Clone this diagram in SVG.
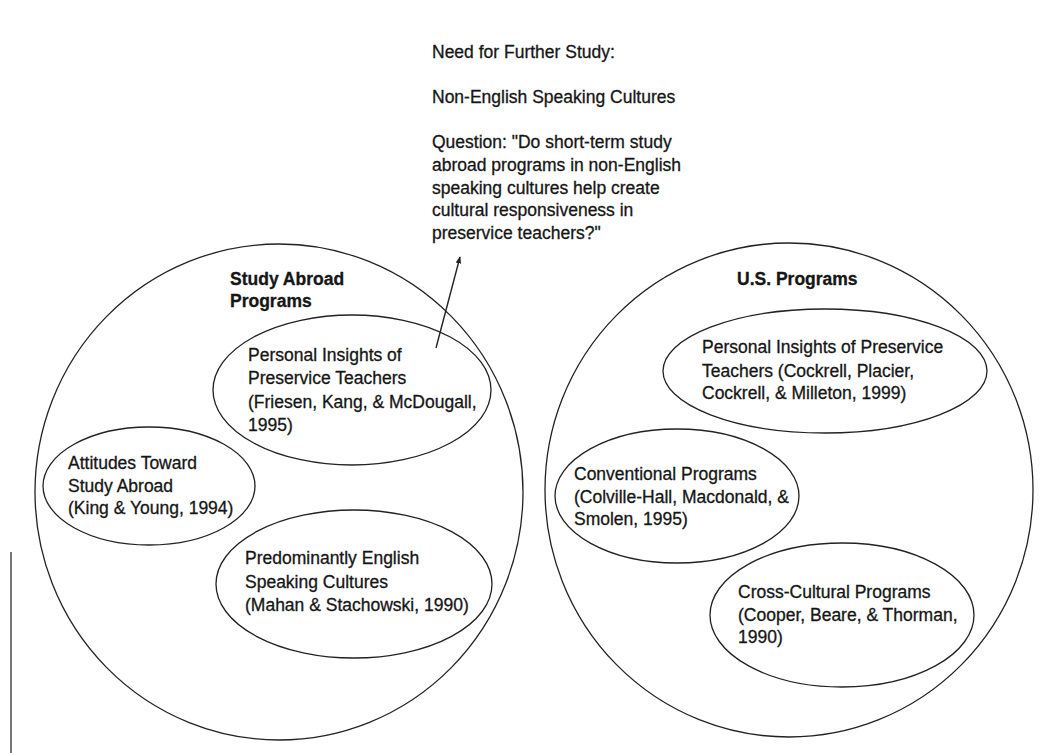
<svg xmlns="http://www.w3.org/2000/svg" width="1046" height="753" viewBox="0 0 1046 753">
<defs>
<style>
text{font-family:"Liberation Sans",Arial,sans-serif;font-size:17.5px;fill:#161616;stroke:#161616;stroke-width:0.3;}
.b{font-weight:bold;}
.sh{fill:none;stroke:#222;stroke-width:1.3;}
.cn{fill:none;stroke:#222;stroke-width:1.4;}
</style>
<marker id="ah" viewBox="0 0 10 10" refX="9" refY="5" markerWidth="7" markerHeight="7" orient="auto" markerUnits="userSpaceOnUse">
<path d="M0,1 L10,5 L0,9 Z" fill="#222"/>
</marker>
</defs>
<rect width="1046" height="753" fill="#fff"/>
<g id="note">
<text x="432" y="58">Need for Further Study:</text>
<text x="432" y="103">Non-English Speaking Cultures</text>
<text x="432" y="148">Question: "Do short-term study</text>
<text x="432" y="171">abroad programs in non-English</text>
<text x="432" y="194">speaking cultures help create</text>
<text x="432" y="216">cultural responsiveness in</text>
<text x="432" y="239">preservice teachers?"</text>
</g>
<g id="study-abroad">
<ellipse class="sh" cx="279" cy="492" rx="244" ry="248"/>
<text class="b" x="230" y="285">Study Abroad</text>
<text class="b" x="230" y="307">Programs</text>
</g>
<g id="sa-insights">
<ellipse class="sh" cx="352" cy="390" rx="139" ry="75"/>
<text x="248" y="361">Personal Insights of</text>
<text x="248" y="384">Preservice Teachers</text>
<text x="248" y="408">(Friesen, Kang, &amp; McDougall,</text>
<text x="248" y="431">1995)</text>
</g>
<g id="sa-attitudes">
<ellipse class="sh" cx="149" cy="486" rx="106" ry="59"/>
<text x="68" y="469">Attitudes Toward</text>
<text x="68" y="492">Study Abroad</text>
<text x="68" y="514">(King &amp; Young, 1994)</text>
</g>
<g id="sa-english">
<ellipse class="sh" cx="354" cy="584" rx="138" ry="74"/>
<text x="245" y="564">Predominantly English</text>
<text x="245" y="588">Speaking Cultures</text>
<text x="245" y="611">(Mahan &amp; Stachowski, 1990)</text>
</g>
<g id="us-programs">
<ellipse class="sh" cx="789" cy="490" rx="244" ry="247"/>
<text class="b" x="737" y="285">U.S. Programs</text>
</g>
<g id="us-insights">
<ellipse class="sh" cx="825" cy="371" rx="162" ry="62"/>
<text x="702" y="353">Personal Insights of Preservice</text>
<text x="702" y="377">Teachers (Cockrell, Placier,</text>
<text x="702" y="399">Cockrell, &amp; Milleton, 1999)</text>
</g>
<g id="us-conventional">
<ellipse class="sh" cx="677" cy="496" rx="122" ry="67"/>
<text x="574" y="480">Conventional Programs</text>
<text x="574" y="503">(Colville-Hall, Macdonald, &amp;</text>
<text x="574" y="525">Smolen, 1995)</text>
</g>
<g id="us-crosscultural">
<ellipse class="sh" cx="842" cy="615" rx="132" ry="72"/>
<text x="738" y="598">Cross-Cultural Programs</text>
<text x="738" y="621">(Cooper, Beare, &amp; Thorman,</text>
<text x="738" y="643">1990)</text>
</g>
<g id="connectors">
<line class="cn" x1="436" y1="348" x2="460" y2="257" marker-end="url(#ah)"/>
<line x1="11" y1="552" x2="11" y2="753" stroke="#555" stroke-width="1.6"/>
</g>
</svg>
